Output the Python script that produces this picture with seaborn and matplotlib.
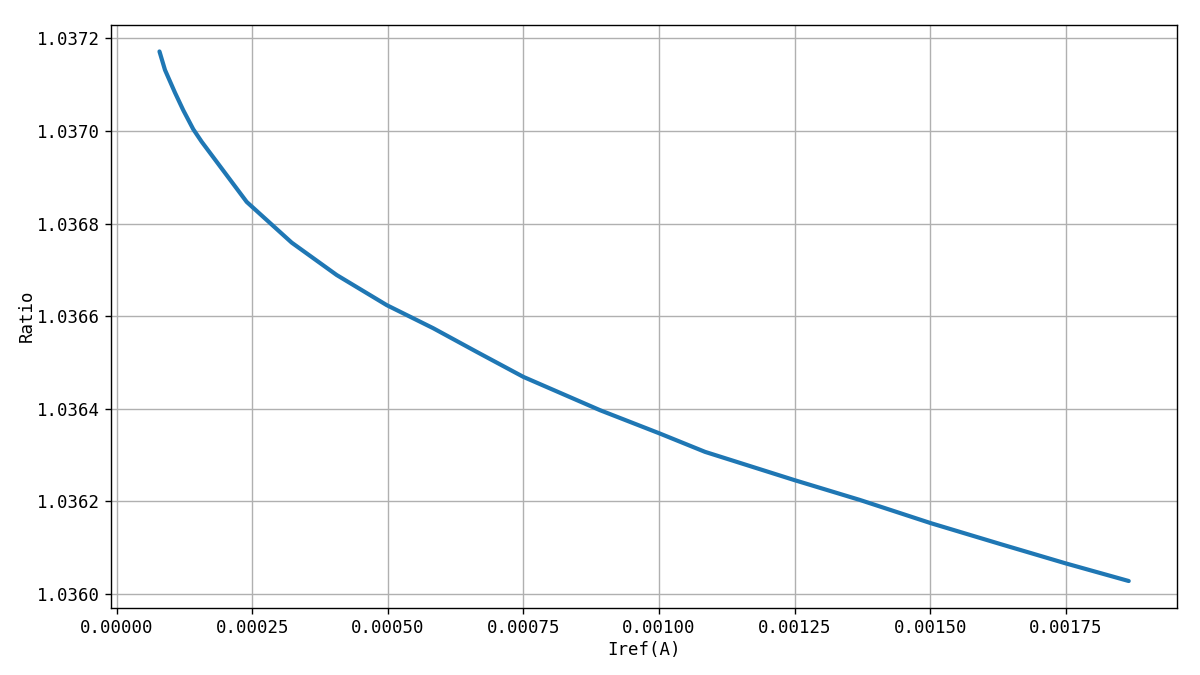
import matplotlib
matplotlib.use("Agg")
import matplotlib.pyplot as plt
import matplotlib.ticker as mticker
import pandas as pd
import seaborn as sns

# values
iref = [
    0.0000789, 0.0000891, 0.0001075, 0.0001228, 0.0001412, 0.0001567,
    0.0002397, 0.0003227, 0.0004057, 0.0004979, 0.0005838, 0.0006638,
    0.0007498, 0.0008912, 0.0010006, 0.0010848, 0.0012495, 0.0013706,
    0.0015010, 0.0016288, 0.0017500, 0.0018659,
]
ratio = [
    1.037172, 1.037132, 1.037083, 1.037045, 1.037004, 1.036977,
    1.036847, 1.036759, 1.036689, 1.036624, 1.036574, 1.036523,
    1.036469, 1.036397, 1.036347, 1.036307, 1.036246, 1.036203,
    1.036153, 1.036108, 1.036066, 1.036028,
]

df = pd.DataFrame({"Iref(A)": iref, "Ratio": ratio})

sns.set_style("ticks")
plt.rcParams["font.family"] = ["DejaVu Sans Mono", "Noto Sans CJK SC"]
plt.rcParams["text.color"] = "black"
plt.rcParams["axes.labelcolor"] = "black"
plt.rcParams["xtick.color"] = "black"
plt.rcParams["ytick.color"] = "black"

fig, ax = plt.subplots(figsize=(12, 6.75), dpi=100)
fig.subplots_adjust(left=0.0925, right=0.981, top=0.963, bottom=0.1)

sns.lineplot(data=df, x="Iref(A)", y="Ratio", ax=ax, color="#1f77b4",
             linewidth=3, sort=False)

ax.xaxis.set_major_locator(mticker.MultipleLocator(0.00025))
ax.yaxis.set_major_locator(mticker.MultipleLocator(0.0002))
ax.xaxis.set_major_formatter(mticker.FormatStrFormatter("%.5f"))
ax.yaxis.set_major_formatter(mticker.FormatStrFormatter("%.4f"))
ax.margins(x=0.05, y=0.05)

ax.grid(True, color="#b0b0b0", linewidth=1.0)
for side in ax.spines.values():
    side.set_visible(True)
    side.set_color("black")
    side.set_linewidth(1.0)
ax.tick_params(axis="both", labelsize=12.5, length=4, width=1, pad=4)
ax.set_xlabel("Iref(A)", fontsize=12.5, labelpad=3)
ax.set_ylabel("Ratio", fontsize=12.5, labelpad=1)

fig.savefig("out.png", dpi=100)
